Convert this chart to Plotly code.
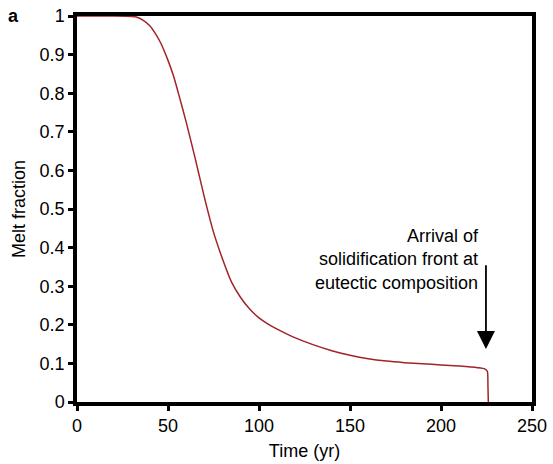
import plotly.graph_objects as go

# Melt fraction versus time during cooling
time_yr = [0, 10, 20, 30, 33, 36, 40, 43, 46, 50, 53, 56, 60, 65, 70, 75, 80, 85, 90,
           95, 100, 105, 110, 120, 130, 140, 150, 160, 170, 180, 190, 200, 210, 220,
           224, 225.5, 225.8, 226]
melt_fraction = [1.0, 1.0, 1.0, 0.999, 0.997, 0.99, 0.975, 0.955, 0.93, 0.885, 0.845,
                 0.795, 0.725, 0.63, 0.53, 0.44, 0.37, 0.31, 0.27,
                 0.24, 0.218, 0.202, 0.189, 0.166, 0.148, 0.133, 0.121, 0.112, 0.106,
                 0.102, 0.099, 0.096, 0.093, 0.089, 0.086, 0.079, 0.04, 0.0]

x_ticks = [0, 50, 100, 150, 200, 250]
y_ticks = [0, 0.1, 0.2, 0.3, 0.4, 0.5, 0.6, 0.7, 0.8, 0.9, 1]
y_tick_text = ["0", "0.1", "0.2", "0.3", "0.4", "0.5", "0.6", "0.7", "0.8", "0.9", "1"]

arrival_note = "Arrival of<br>solidification front at<br>eutectic composition"
arrow_tip = (224.7, 0.137)
arrow_tail = (224.7, 0.358)
note_anchor = (222.0, 0.370)

FONT = "Liberation Sans, Arial, sans-serif"

fig = go.Figure()
fig.add_trace(go.Scatter(
    x=time_yr, y=melt_fraction, mode="lines",
    line=dict(color="#a3232a", width=1.5, shape="spline", smoothing=0.5),
    showlegend=False,
))

axis_style = dict(
    showline=True, linecolor="black", linewidth=3.5, mirror=True,
    ticks="outside", ticklen=5, tickwidth=3, tickcolor="black",
    showgrid=False, zeroline=False, automargin=False,
    tickfont=dict(family=FONT, size=18, color="black"),
)

fig.update_xaxes(range=[0, 250], tickvals=x_ticks,
                 title=dict(text="Time (yr)", font=dict(family=FONT, size=18, color="black"),
                            standoff=10),
                 **axis_style)
fig.update_yaxes(range=[0, 1], tickvals=y_ticks, ticktext=y_tick_text,
                 title=dict(text="Melt fraction", font=dict(family=FONT, size=18, color="black"),
                            standoff=10),
                 **axis_style)

fig.add_annotation(
    x=arrow_tip[0], y=arrow_tip[1], ax=arrow_tail[0], ay=arrow_tail[1],
    xref="x", yref="y", axref="x", ayref="y",
    text="", showarrow=True, arrowhead=2, arrowsize=2.0, arrowwidth=1.8,
    arrowcolor="black",
)
fig.add_annotation(
    x=note_anchor[0], y=note_anchor[1], xref="x", yref="y",
    text=arrival_note, showarrow=False, xanchor="right", yanchor="middle",
    align="right", font=dict(family=FONT, size=18, color="black"),
)
fig.add_annotation(
    x=-0.155, y=1.0, xref="paper", yref="paper", text="<b>a</b>", showarrow=False,
    xanchor="left", yanchor="middle",
    font=dict(family=FONT, size=18, color="black"),
)

fig.update_layout(
    width=553, height=464,
    margin=dict(l=77, r=21, t=16, b=62),
    paper_bgcolor="white", plot_bgcolor="white",
    font=dict(family=FONT, color="black"),
)

fig.write_html("out.html")
